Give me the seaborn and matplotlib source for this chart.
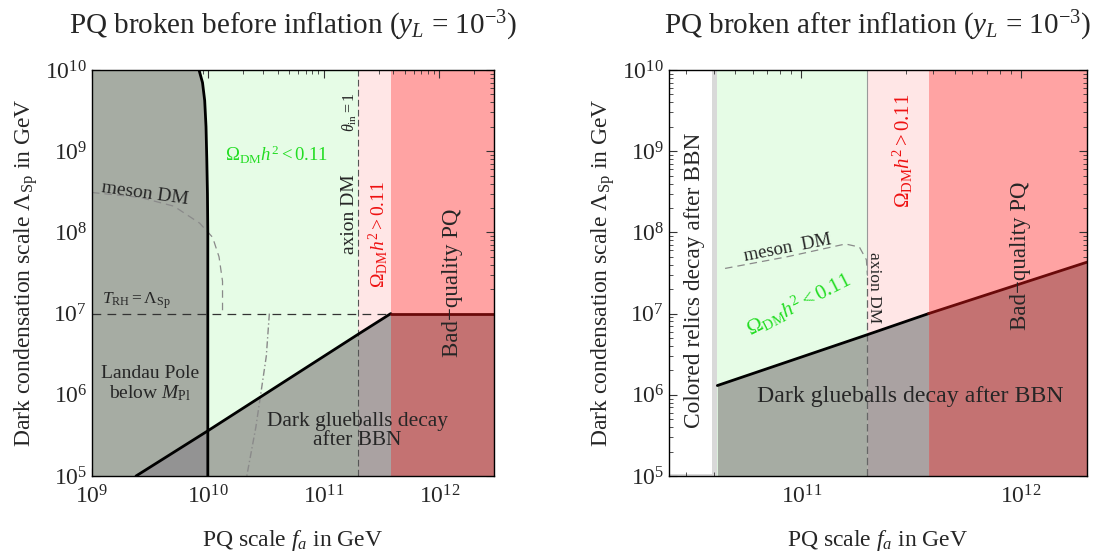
import numpy as np
import pandas as pd
import matplotlib
matplotlib.use("Agg")
import matplotlib.pyplot as plt
from matplotlib.ticker import LogLocator, NullFormatter
import seaborn as sns

# ---------------- data ----------------
# left panel: PQ broken before inflation
L_xlim = [1e9, 2.96e12]
L_ylim = [1e5, 1e10]
landau_L = [1e10, 7e9, 4.2e9, 2e9, 8e8, 3e8, 1e8, 1e5]          # Lambda_Sp
landau_fa = [8.4e9, 9.0e9, 9.4e9, 9.65e9, 9.8e9, 9.93e9, 1.0e10, 1.0e10]
glue_fa_L = [2.4e9, 1e10, 2e11, 3.8e11, 2.96e12]
glue_L_L = [1e5, 3.6e5, 5.6e6, 1e7, 1e7]
axion_fa_L = 2e11
badq_fa_L = 3.8e11
trh_L = 1e7
meson1_fa = [1e9, 2.6e9, 5.1e9, 8.5e9, 1.1e10, 1.25e10, 1.34e10, 1.34e10]
meson1_L = [3.1e8, 2.7e8, 2.1e8, 1.3e8, 8.7e7, 5e7, 2.5e7, 1e7]
meson2_fa = [3.4e10, 3.2e10, 2.9e10, 2.6e10, 2.17e10]
meson2_L = [1e7, 3e6, 1.15e6, 4e5, 1e5]

# right panel: PQ broken after inflation
R_xlim = [2.5e10, 2e12]
R_ylim = [1e5, 1e10]
colored_fa = [3.94e10, 4.15e10]
glue_fa_R = [4.15e10, 2e11, 3.8e11, 2e12]
glue_L_R = [1.3e6, 5.5e6, 1e7, 4.3e7]
axion_fa_R = 2e11
badq_fa_R = 3.8e11
meson_fa_R = [4.5e10, 8.6e10, 1.59e11, 1.84e11, 1.98e11, 2.0e11]
meson_L_R = [3.6e7, 5e7, 7.2e7, 6.6e7, 4.6e7, 3e7]

# ---------------- colours ----------------
c_gray = "#a6aca3"
c_gray2 = "#939393"
c_green = "#e6fce6"
c_pink = "#ffe6e6"
c_red = "#ffa3a3"
c_pinkgray = "#aaa2a2"
c_redgray = "#c47272"
c_lgray = "#d9d9d9"

sns.set_style("ticks")
plt.rcParams["font.family"] = ["Liberation Serif", "DejaVu Serif"]
plt.rcParams["mathtext.fontset"] = "custom"
plt.rcParams["mathtext.rm"] = "Liberation Serif"
plt.rcParams["mathtext.it"] = "Liberation Serif:italic"
plt.rcParams["mathtext.bf"] = "Liberation Serif:bold"

fig = plt.figure(figsize=(10.99, 5.59), dpi=100)
W, H = 1099, 559
axL = fig.add_axes([92 / W, 83 / H, 402 / W, 406 / H])
axR = fig.add_axes([669 / W, 83 / H, 418 / W, 406 / H])


def style_axes(ax, xlim, ylim, ylabelpad):
    ax.set_xscale("log")
    ax.set_yscale("log")
    ax.set_xlim(*xlim)
    ax.set_ylim(*ylim)
    ax.tick_params(which="both", direction="in", top=True, right=True,
                   labelsize=17, color="#333333")
    ax.tick_params(axis="x", which="major", pad=7)
    ax.tick_params(which="major", length=6, width=0.8)
    ax.tick_params(which="minor", length=3, width=0.6)
    ax.xaxis.set_major_locator(LogLocator(base=10, numticks=20))
    ax.xaxis.set_minor_locator(LogLocator(base=10, subs=np.arange(2, 10), numticks=20))
    ax.yaxis.set_major_locator(LogLocator(base=10, numticks=20))
    ax.yaxis.set_minor_locator(LogLocator(base=10, subs=np.arange(2, 10), numticks=20))
    ax.xaxis.set_minor_formatter(NullFormatter())
    ax.yaxis.set_minor_formatter(NullFormatter())
    for s in ax.spines.values():
        s.set_linewidth(1.0)
        s.set_color("black")
        s.set_zorder(10)
    ax.set_xlabel(r"PQ scale $f_a$ in GeV", fontsize=17, labelpad=14)
    ax.set_ylabel(r"Dark condensation scale $\Lambda_{\rm Sp}$ in GeV", fontsize=17,
                  labelpad=ylabelpad)


# ================= LEFT =================
ax = axL
style_axes(ax, L_xlim, L_ylim, 4)
ax.axvspan(L_xlim[0], axion_fa_L, color=c_green, lw=0, zorder=0)
ax.axvspan(axion_fa_L, badq_fa_L, color=c_pink, lw=0, zorder=0)
ax.axvspan(badq_fa_L, L_xlim[1], color=c_red, lw=0, zorder=0)
ax.fill_betweenx(landau_L, L_xlim[0], landau_fa, color=c_gray, lw=0, zorder=1)
gx = np.array(glue_fa_L)
gy = np.array(glue_L_L)
for i, col in enumerate([c_gray2, c_gray, c_pinkgray, c_redgray]):
    ax.fill_between(gx[i:i + 2], L_ylim[0], gy[i:i + 2], color=col, lw=0, zorder=2)

dfm1 = pd.DataFrame({"fa": meson1_fa, "L": meson1_L})
sns.lineplot(data=dfm1, x="fa", y="L", ax=ax, sort=False, estimator=None,
             color="#8a8a8a", lw=0.9, linestyle=(0, (6, 4)), zorder=3)
dfm2 = pd.DataFrame({"fa": meson2_fa, "L": meson2_L})
sns.lineplot(data=dfm2, x="fa", y="L", ax=ax, sort=False, estimator=None,
             color="#8a8a8a", lw=1.0, linestyle=(0, (5, 2, 1, 2)), zorder=3)
ax.axhline(trh_L, xmax=(np.log10(badq_fa_L) - np.log10(L_xlim[0])) /
           (np.log10(L_xlim[1]) - np.log10(L_xlim[0])),
           color="#333333", lw=0.9, linestyle=(0, (7, 5)), zorder=4)
ax.axvline(axion_fa_L, color="#555555", lw=0.8, linestyle=(0, (6, 3)), zorder=4)
dfl = pd.DataFrame({"fa": landau_fa, "L": landau_L})
sns.lineplot(data=dfl, x="fa", y="L", ax=ax, sort=False, estimator=None,
             color="black", lw=2.0, zorder=5)
dfg = pd.DataFrame({"fa": glue_fa_L[:4], "L": glue_L_L[:4]})
sns.lineplot(data=dfg, x="fa", y="L", ax=ax, sort=False, estimator=None,
             color="black", lw=2.0, zorder=5)
dfg2 = pd.DataFrame({"fa": glue_fa_L[3:], "L": glue_L_L[3:]})
sns.lineplot(data=dfg2, x="fa", y="L", ax=ax, sort=False, estimator=None,
             color="#6a0a0a", lw=2.0, zorder=5)

ax.text(2.87e9, 3.0e8, "meson DM", fontsize=14, rotation=-8, ha="center", va="center", zorder=6)
ax.text(3.9e10, 8.9e8, r"$\Omega_{\rm DM}h^2 < 0.11$", fontsize=13.5, color="#22dd22",
        ha="center", va="center", zorder=6)
ax.text(1.68e11, 3.0e9, r"$\theta_{\rm in}=1$", fontsize=11.5, rotation=90,
        ha="center", va="center", zorder=6)
ax.text(1.68e11, 1.7e8, "axion DM", fontsize=14, rotation=90,
        ha="center", va="center", zorder=6)
ax.text(2.95e11, 9.5e7, r"$\Omega_{\rm DM}h^2 > 0.11$", fontsize=14, color="#ee1111",
        rotation=90, ha="center", va="center", zorder=6)
ax.text(1.3e12, 2.4e7, "Bad\u2212quality PQ", fontsize=16.5, rotation=90,
        ha="center", va="center", zorder=6)
ax.text(1.22e9, 1.07e7, r"$T_{\rm RH}=\Lambda_{\rm Sp}$", fontsize=12.5,
        ha="left", va="bottom", zorder=6)
ax.text(3.15e9, 1.35e6, "Landau Pole\nbelow $M_{\\rm Pl}$", fontsize=14,
        ha="center", va="center", linespacing=1.1, zorder=6)
ax.text(1.95e11, 3.55e5, "Dark glueballs decay\nafter BBN", fontsize=15.4,
        ha="center", va="center", linespacing=1.0, zorder=6)
ax.set_title(r"PQ broken before inflation ($y_L$ = $10^{-3}$)", fontsize=21, pad=26)

# ================= RIGHT =================
ax = axR
style_axes(ax, R_xlim, R_ylim, 4)
ax.axvspan(colored_fa[0], colored_fa[1], color=c_lgray, lw=0, zorder=0)
ax.axvspan(colored_fa[1], axion_fa_R, color=c_green, lw=0, zorder=0)
ax.axvspan(axion_fa_R, badq_fa_R, color=c_pink, lw=0, zorder=0)
ax.axvspan(badq_fa_R, R_xlim[1], color=c_red, lw=0, zorder=0)
ax.axhspan(R_ylim[0], 1.07e5, xmax=(np.log10(colored_fa[0]) - np.log10(R_xlim[0])) /
           (np.log10(R_xlim[1]) - np.log10(R_xlim[0])), color=c_lgray, lw=0, zorder=0)
gx = np.array(glue_fa_R)
gy = np.array(glue_L_R)
for i, col in enumerate([c_gray, c_pinkgray, c_redgray]):
    ax.fill_between(gx[i:i + 2], R_ylim[0], gy[i:i + 2], color=col, lw=0, zorder=2)

dfmr = pd.DataFrame({"fa": meson_fa_R, "L": meson_L_R})
sns.lineplot(data=dfmr, x="fa", y="L", ax=ax, sort=False, estimator=None,
             color="#8a8a8a", lw=0.9, linestyle=(0, (6, 4)), zorder=3)
ax.axvline(axion_fa_R, ymax=(np.log10(meson_L_R[-1]) - 5) / 5,
           color="#666666", lw=0.9, linestyle=(0, (6, 3)), zorder=3)
ax.axvline(axion_fa_R, ymin=(np.log10(meson_L_R[-1]) - 5) / 5,
           color="#999999", lw=0.8, zorder=1)
dfgr = pd.DataFrame({"fa": glue_fa_R[:3], "L": glue_L_R[:3]})
sns.lineplot(data=dfgr, x="fa", y="L", ax=ax, sort=False, estimator=None,
             color="black", lw=2.0, zorder=5)
dfgr2 = pd.DataFrame({"fa": glue_fa_R[2:], "L": glue_L_R[2:]})
sns.lineplot(data=dfgr2, x="fa", y="L", ax=ax, sort=False, estimator=None,
             color="#6a0a0a", lw=2.0, zorder=5)

ax.text(3.26e10, 2.6e7, "Colored relics decay after BBN", fontsize=16.8, rotation=90,
        ha="center", va="center", zorder=6)
ax.text(8.7e10, 6.4e7, "meson  DM", fontsize=13.5, rotation=11,
        ha="center", va="center", zorder=6)
ax.text(9.7e10, 1.3e7, r"$\Omega_{\rm DM}h^2 < 0.11$", fontsize=15, color="#22dd22",
        rotation=27, ha="center", va="center", zorder=6)
ax.text(2.15e11, 2.1e7, "axion DM", fontsize=12.5, rotation=-90,
        ha="center", va="center", zorder=6)
ax.text(2.9e11, 1.0e9, r"$\Omega_{\rm DM}h^2 > 0.11$", fontsize=15, color="#ee1111",
        rotation=90, ha="center", va="center", zorder=6)
ax.text(1.0e12, 5.2e7, "Bad\u2212quality PQ", fontsize=16.5, rotation=90,
        ha="center", va="center", zorder=6)
ax.text(3.13e11, 9.6e5, "Dark glueballs decay after BBN", fontsize=17.2,
        ha="center", va="center", zorder=6)
ax.set_title(r"PQ broken after inflation ($y_L$ = $10^{-3}$)", fontsize=21, pad=26)

fig.savefig("out.png", dpi=100)
